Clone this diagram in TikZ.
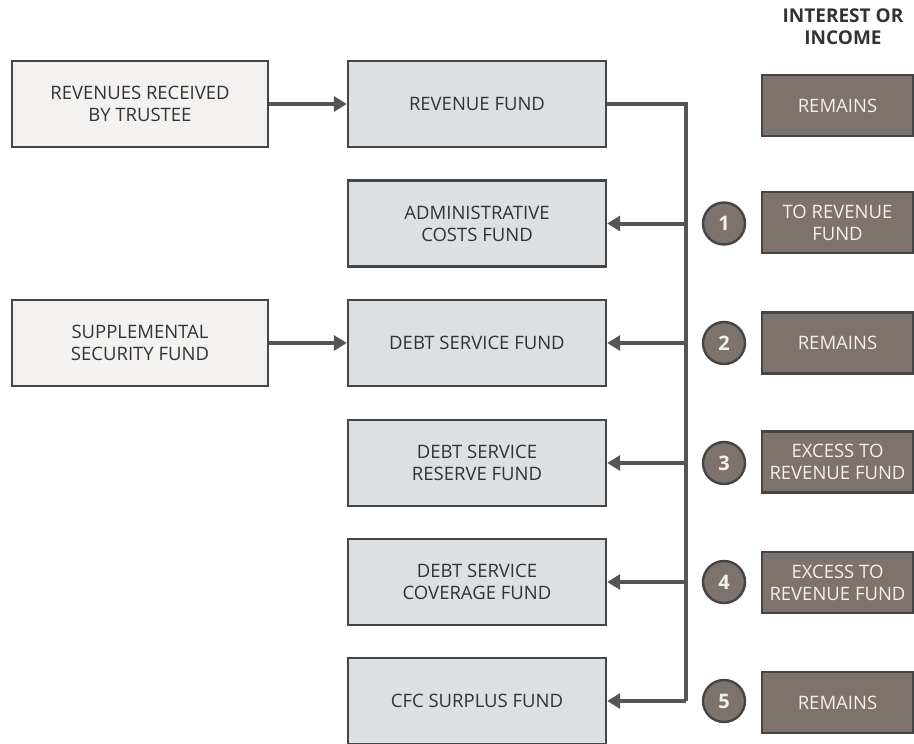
\documentclass[tikz,border=0pt]{standalone}
\usepackage{fontspec}
\setmainfont{Open Sans}
\usetikzlibrary{arrows.meta}
\definecolor{lightbox}{HTML}{F4F2F1}
\definecolor{midbox}{HTML}{DCE0E3}
\definecolor{brownbox}{HTML}{7D736C}
\definecolor{edgecol}{HTML}{454545}
\definecolor{linecol}{HTML}{555555}
\definecolor{txtcol}{HTML}{333333}
\definecolor{wtxt}{HTML}{F2F0EC}
\tikzset{
  base/.style={draw=edgecol, line width=2.4pt, align=center, inner sep=0pt,
    font=\fontsize{18.5}{22}\selectfont},
  srcbox/.style={base, fill=lightbox, text=txtcol, minimum width=256pt, minimum height=86pt},
  fundbox/.style={base, fill=midbox, text=txtcol, minimum width=258pt, minimum height=86pt},
  outbox/.style={base, fill=brownbox, text=wtxt, minimum width=151pt, minimum height=61pt},
  numcirc/.style={circle, draw=edgecol, line width=2.4pt, fill=brownbox, text=wtxt,
    minimum size=42pt, inner sep=0pt, font=\fontsize{20}{22}\selectfont\bfseries},
  conn/.style={draw=linecol, line width=4pt},
  arr/.style={conn, -{Triangle[length=13pt,width=15pt]}},
}
\begin{document}
\begin{tikzpicture}[x=1pt,y=-1pt]
\useasboundingbox (0,0) rectangle (914,744);
% header
\node[font=\fontsize{19}{22}\selectfont\bfseries, text=txtcol, align=center] (hdr) at (843,27) {INTEREST OR\\INCOME};
% left sources
\node[srcbox] (rcv) at (140,104) {REVENUES RECEIVED\\BY TRUSTEE};
\node[srcbox] (sup) at (140,343) {SUPPLEMENTAL\\SECURITY FUND};
% middle funds
\node[fundbox] (rev) at (477,104) {REVENUE FUND};
\node[fundbox] (adm) at (477,223.5) {ADMINISTRATIVE\\COSTS FUND};
\node[fundbox] (dsf) at (477,343) {DEBT SERVICE FUND};
\node[fundbox] (dsr) at (477,463) {DEBT SERVICE\\RESERVE FUND};
\node[fundbox] (dsc) at (477,582) {DEBT SERVICE\\COVERAGE FUND};
\node[fundbox] (cfc) at (477,701) {CFC SURPLUS FUND};
% right outcomes
\node[outbox] (o0) at (837.5,105.5) {REMAINS};
\node[outbox] (o1) at (837.5,222.5) {TO REVENUE\\FUND};
\node[outbox] (o2) at (837.5,343) {REMAINS};
\node[outbox] (o3) at (837.5,462) {EXCESS TO\\REVENUE FUND};
\node[outbox] (o4) at (837.5,582.5) {EXCESS TO\\REVENUE FUND};
\node[outbox] (o5) at (837.5,702.5) {REMAINS};
% numbers
\node[numcirc] (n1) at (724,223.5) {1};
\node[numcirc] (n2) at (724,343) {2};
\node[numcirc] (n3) at (724,463) {3};
\node[numcirc] (n4) at (724,582) {4};
\node[numcirc] (n5) at (724,701) {5};
% bus
\coordinate (bustop) at (686,104);
\coordinate (busbot) at (686,701);
\draw[arr] (rcv.east) -- (rev.west);
\draw[arr] (sup.east) -- (dsf.west);
\draw[conn, line join=miter] (rev.east) -- (bustop) -- (busbot);
\draw[arr] (bustop |- adm.east) -- (adm.east);
\draw[arr] (bustop |- dsf.east) -- (dsf.east);
\draw[arr] (bustop |- dsr.east) -- (dsr.east);
\draw[arr] (bustop |- dsc.east) -- (dsc.east);
\draw[arr, line join=miter] (busbot) -- (cfc.east);
\end{tikzpicture}
\end{document}
